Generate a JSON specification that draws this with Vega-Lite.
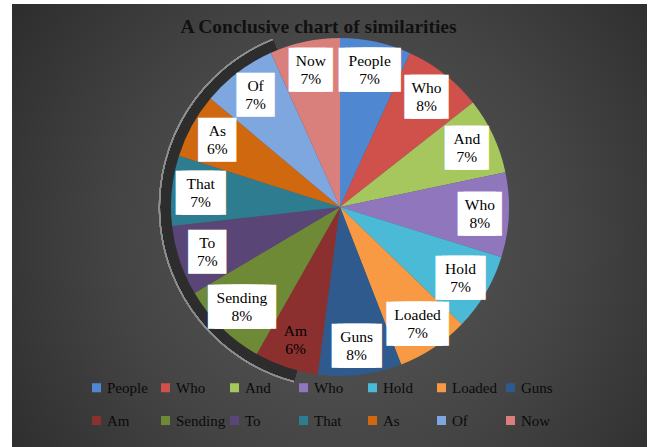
{
  "$schema": "https://vega.github.io/schema/vega-lite/v6.json",
  "width": 635,
  "height": 443,
  "autosize": {"type": "none"},
  "padding": {"left": 12, "top": 4, "right": 5, "bottom": 0},
  "background": "white",
  "config": {
    "view": {"stroke": null},
    "font": "Liberation Serif",
    "legend": {"labelColor": "#0a0a0a", "labelOpacity": 1}
  },
  "title": {
    "text": "A Conclusive chart of similarities",
    "font": "Liberation Serif",
    "fontSize": 19.5,
    "fontWeight": "bold",
    "color": "#111111",
    "baseline": "top",
    "offset": -33,
    "dx": -11
  },
  "data": {
    "values": [
      {"i": 1, "word": "People", "share": 0.068},
      {"i": 2, "word": "Who", "share": 0.076},
      {"i": 3, "word": "And", "share": 0.073},
      {"i": 4, "word": "Who ", "share": 0.081},
      {"i": 5, "word": "Hold", "share": 0.074},
      {"i": 6, "word": "Loaded", "share": 0.069},
      {"i": 7, "word": "Guns", "share": 0.080},
      {"i": 8, "word": "Am", "share": 0.061},
      {"i": 9, "word": "Sending", "share": 0.083},
      {"i": 10, "word": "To", "share": 0.067},
      {"i": 11, "word": "That", "share": 0.067},
      {"i": 12, "word": "As", "share": 0.062},
      {"i": 13, "word": "Of", "share": 0.072},
      {"i": 14, "word": "Now", "share": 0.067}
    ]
  },
  "layer": [
    {
      "data": {"values": [{}]},
      "mark": {
        "type": "rect",
        "fill": {
          "gradient": "radial",
          "x1": 0.52, "y1": 0.52, "x2": 0.52, "y2": 0.52,
          "r1": 0, "r2": 0.72,
          "stops": [
            {"offset": 0, "color": "#5a5a5a"},
            {"offset": 0.5, "color": "#444444"},
            {"offset": 1, "color": "#262626"}
          ]
        }
      },
      "encoding": {}
    },
    {
      "mark": {"type": "arc", "theta": 3.40, "theta2": 5.90, "innerRadius": 168, "outerRadius": 180, "fill": "#2d2d2d", "xOffset": 10.5, "yOffset": -18.5},
      "encoding": {}
    },
    {
      "mark": {"type": "arc", "theta": 3.40, "theta2": 5.90, "innerRadius": 180, "outerRadius": 181.2, "fill": "#8e8e8e", "xOffset": 10.5, "yOffset": -18.5},
      "encoding": {}
    },
    {
      "mark": {"type": "arc", "outerRadius": 169, "xOffset": 10.5, "yOffset": -18.5},
      "encoding": {
        "theta": {"field": "share", "type": "quantitative", "stack": true},
        "order": {"field": "i", "type": "quantitative"},
        "color": {
          "field": "word",
          "type": "nominal",
          "scale": {
            "domain": ["People", "Who", "And", "Who ", "Hold", "Loaded", "Guns", "Am", "Sending", "To", "That", "As", "Of", "Now"],
            "range": ["#4f88d0", "#d0504c", "#a5c75e", "#9077bd", "#4bbad6", "#f79a43", "#2f5a8e", "#8b302e", "#6f8a37", "#5a4577", "#2e7c90", "#d0680f", "#7ea7df", "#d97f7c"]
          },
          "legend": {
            "orient": "none",
            "legendX": 77,
            "legendY": 376,
            "direction": "horizontal",
            "columns": 7,
            "gridAlign": "all",
            "symbolType": "square",
            "symbolSize": 81,
            "symbolStrokeWidth": 0,
            "labelFont": "Liberation Serif",
            "labelFontSize": 15,
            "labelColor": "#0a0a0a",
            "labelOffset": 3,
            "columnPadding": 1,
            "rowPadding": 17,
            "title": null
          }
        }
      }
    },
    {
      "mark": {
        "type": "text",
        "radius": 140,
        "font": "DejaVu Sans Mono",
        "fontSize": 10,
        "fill": "white",
        "stroke": "white",
        "strokeWidth": 32,
        "strokeJoin": "miter",
        "align": "center",
        "baseline": "middle",
        "xOffset": 10.5,
        "yOffset": -18.5,
        "text": {"expr": "datum.word == 'Am' ? '' : slice('██████████', 0, length(trim(datum.word)) - 1)"}
      },
      "encoding": {
        "theta": {"field": "share", "type": "quantitative", "stack": true},
        "order": {"field": "i", "type": "quantitative"}
      }
    },
    {
      "mark": {"type": "text", "radius": 140, "font": "Liberation Serif", "fontSize": 15.5, "fill": "#000000", "dy": -9, "xOffset": 10.5, "yOffset": -18.5},
      "encoding": {
        "theta": {"field": "share", "type": "quantitative", "stack": true},
        "order": {"field": "i", "type": "quantitative"},
        "text": {"field": "word", "type": "nominal"}
      }
    },
    {
      "mark": {"type": "text", "radius": 140, "font": "Liberation Serif", "fontSize": 15.5, "fill": "#000000", "dy": 9, "xOffset": 10.5, "yOffset": -18.5},
      "encoding": {
        "theta": {"field": "share", "type": "quantitative", "stack": true},
        "order": {"field": "i", "type": "quantitative"},
        "text": {"field": "share", "type": "quantitative", "format": ".0%"}
      }
    }
  ]
}
